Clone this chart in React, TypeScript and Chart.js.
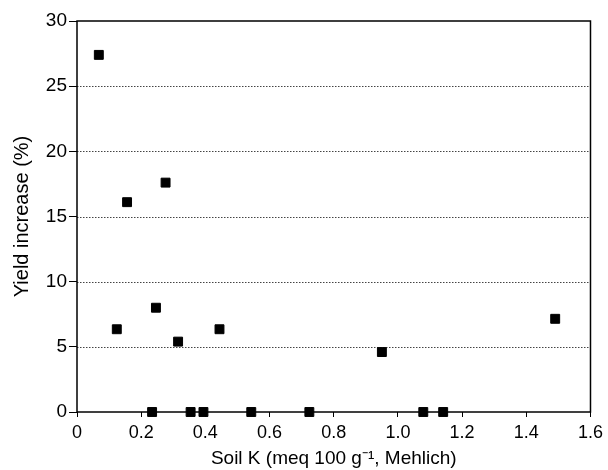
import React, { useEffect, useRef } from "react";
import { Chart, registerables } from "chart.js";

Chart.register(...registerables);

const soilK: number[] = [0.068, 0.124, 0.156, 0.234, 0.246, 0.276, 0.315, 0.354, 0.394, 0.444, 0.543, 0.724, 0.95, 1.079, 1.141, 1.49];
const yieldIncrease: number[] = [27.4, 6.35, 16.1, 0, 8.0, 17.6, 5.4, 0, 0, 6.35, 0, 0, 4.6, 0, 0, 7.15];
const gridValues: number[] = [5, 10, 15, 20, 25];
const xTitle = "Soil K (meq 100 g\u207B\u00B9, Mehlich)";
const yTitle = "Yield increase (%)";

const FONT = "'Liberation Sans', Arial, Helvetica, sans-serif";

const framePlugin = {
  id: "frame",
  beforeDatasetsDraw(chart: any) {
    const { ctx, chartArea, scales } = chart;
    const { left, right, top, bottom } = chartArea;
    const y = scales.y;
    ctx.save();
    ctx.strokeStyle = "#444";
    ctx.lineWidth = 1;
    ctx.setLineDash([1.5, 1.5]);
    for (const v of gridValues) {
      const py = Math.round(y.getPixelForValue(v)) + 0.5;
      ctx.beginPath();
      ctx.moveTo(left, py);
      ctx.lineTo(right, py);
      ctx.stroke();
    }
    ctx.setLineDash([]);
    ctx.strokeStyle = "#000";
    ctx.lineWidth = 1.5;
    ctx.strokeRect(left, top, right - left, bottom - top);
    ctx.restore();
  },
};

export default function App() {
  const ref = useRef<HTMLCanvasElement | null>(null);
  useEffect(() => {
    if (!ref.current) return;
    const chart = new Chart(ref.current, {
      type: "scatter",
      data: {
        datasets: [
          {
            data: soilK.map((x, i) => ({ x, y: yieldIncrease[i] })),
            pointStyle: "rect",
            pointRadius: 6.3,
            pointBackgroundColor: "#000",
            pointBorderColor: "#000",
            pointBorderWidth: 1,
            clip: false as any,
          },
        ],
      },
      options: {
        responsive: false,
        animation: false,
        layout: { padding: { top: 21, right: 12, left: 0, bottom: 0 } },
        plugins: { legend: { display: false }, tooltip: { enabled: false } },
        scales: {
          x: {
            type: "linear",
            min: 0,
            max: 1.6,
            afterFit: (s: any) => {
              s.height = 58;
            },
            border: { display: false },
            grid: { drawOnChartArea: false, drawTicks: true, tickLength: 5, tickColor: "#000", tickWidth: 1 },
            ticks: {
              stepSize: 0.2,
              padding: 5,
              color: "#000",
              font: { family: FONT, size: 18 },
              maxRotation: 0,
              callback: (v: any) => (Math.abs(v) < 1e-9 ? "0" : Number(v).toFixed(1)),
            },
            title: {
              display: true,
              text: xTitle,
              color: "#000",
              font: { family: FONT, size: 19 },
              padding: { top: 0, bottom: 0 },
            },
          },
          y: {
            type: "linear",
            min: 0,
            max: 30,
            afterFit: (s: any) => {
              s.width = 77;
            },
            border: { display: false },
            grid: { drawOnChartArea: false, drawTicks: true, tickLength: 8, tickColor: "#000", tickWidth: 1 },
            ticks: {
              stepSize: 5,
              padding: 2,
              color: "#000",
              font: { family: FONT, size: 19 },
              callback: (v: any) => String(Math.round(Number(v))),
            },
            title: {
              display: true,
              text: yTitle,
              color: "#000",
              font: { family: FONT, size: 20 },
              padding: { top: 10, bottom: 0 },
            },
          },
        },
      },
      plugins: [framePlugin],
    });
    return () => chart.destroy();
  }, []);
  return (
    <div style={{ position: "fixed", left: 0, top: 0, width: 608, height: 470, background: "#fff" }}>
      <canvas ref={ref} width={608} height={470} style={{ display: "block" }} />
    </div>
  );
}
